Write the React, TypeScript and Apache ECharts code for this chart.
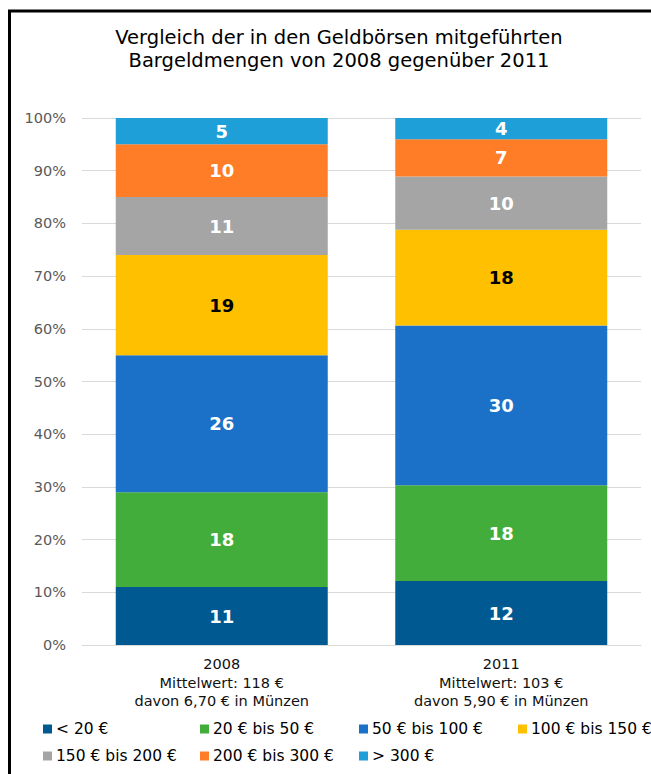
import React, { useEffect, useRef } from "react";
import * as echarts from "echarts";

const categories = ["2008", "2011"];
const meanValues = ["118 €", "103 €"];
const coinValues = ["6,70 €", "5,90 €"];
const seriesNames = [
  "< 20 €",
  "20 € bis 50 €",
  "50 € bis 100 €",
  "100 € bis 150 €",
  "150 € bis 200 €",
  "200 € bis 300 €",
  "> 300 €",
];
const values2008 = [11, 18, 26, 19, 11, 10, 5];
const values2011 = [12, 18, 30, 18, 10, 7, 4];
const seriesColors = ["#005a91", "#43ad3b", "#1b70c7", "#ffc000", "#a5a5a5", "#ff7d26", "#1e9fd7"];
const labelColors = ["#ffffff", "#ffffff", "#ffffff", "#000000", "#ffffff", "#ffffff", "#ffffff"];
const yMin = 0;
const yMax = 100;
const yInterval = 10;

const titleLines = ["Vergleich der in den Geldbörsen mitgeführten", "Bargeldmengen von 2008 gegenüber 2011"];

const legendPos = [
  [43, 720],
  [200, 720],
  [359, 720],
  [518, 720],
  [43, 747],
  [200, 747],
  [359, 747],
];

const FONT = "'DejaVu Sans', sans-serif";

export default function App() {
  const ref = useRef<HTMLDivElement>(null);
  useEffect(() => {
    if (!ref.current) return;
    const chart = echarts.init(ref.current, undefined, { renderer: "svg" });
    const columns = [values2008, values2011];
    const totals = columns.map((c) => c.reduce((a, b) => a + b, 0));
    const series = seriesNames.map((name, i) => ({
      name,
      type: "bar",
      stack: "total",
      barWidth: 212,
      itemStyle: { color: seriesColors[i] },
      label: {
        show: true,
        position: "inside",
        color: labelColors[i],
        fontFamily: FONT,
        fontWeight: "bold",
        fontSize: 18,
        formatter: (p: any) => String(columns[p.dataIndex][i]),
      },
      data: columns.map((c, ci) => (c[i] / totals[ci]) * 100),
    }));
    chart.setOption({
      animation: false,
      backgroundColor: "#ffffff",
      textStyle: { fontFamily: FONT },
      grid: { left: 82, right: 10, top: 118, bottom: 129 },
      legend: seriesNames.map((name, i) => ({
        data: [name],
        left: legendPos[i][0],
        top: legendPos[i][1],
        padding: 0,
        icon: "rect",
        itemWidth: 9,
        itemHeight: 9,
        selectedMode: false,
        textStyle: { fontFamily: FONT, fontSize: 15.5, color: "#000000", lineHeight: 18, padding: [0, 0, 0, -1] },
      })),
      xAxis: {
        type: "category",
        data: categories,
        axisTick: { show: false },
        axisLine: { lineStyle: { color: "#d9d9d9", width: 1 } },
        axisLabel: {
          margin: 10,
          color: "#111111",
          fontFamily: FONT,
          fontSize: 14.5,
          lineHeight: 18.5,
          formatter: (v: string, idx: number) =>
            `${v}\nMittelwert: ${meanValues[idx]}\ndavon ${coinValues[idx]} in Münzen`,
        },
      },
      yAxis: {
        type: "value",
        min: yMin,
        max: yMax,
        interval: yInterval,
        axisLine: { show: false },
        axisTick: { show: false },
        splitLine: { lineStyle: { color: "#d9d9d9", width: 1 } },
        axisLabel: {
          margin: 16,
          color: "#595959",
          fontFamily: FONT,
          fontSize: 14.5,
          formatter: "{value}%",
        },
      },
      graphic: [
        {
          type: "rect",
          shape: { x: 9.5, y: 11, width: 700, height: 800 },
          style: { fill: "none", stroke: "#000000", lineWidth: 3 },
          silent: true,
        },
        {
          type: "text",
          x: 339,
          y: 37,
          style: {
            text: titleLines[0],
            fontFamily: FONT,
            fontSize: 19.5,
            fill: "#000000",
            textAlign: "center",
            textVerticalAlign: "middle",
          },
        },
        {
          type: "text",
          x: 339,
          y: 60,
          style: {
            text: titleLines[1],
            fontFamily: FONT,
            fontSize: 19.5,
            fill: "#000000",
            textAlign: "center",
            textVerticalAlign: "middle",
          },
        },
      ],
      series,
    });
    return () => chart.dispose();
  }, []);
  return (
    <div
      ref={ref}
      style={{ position: "fixed", left: 0, top: 0, width: 651, height: 774, background: "#ffffff" }}
    />
  );
}
